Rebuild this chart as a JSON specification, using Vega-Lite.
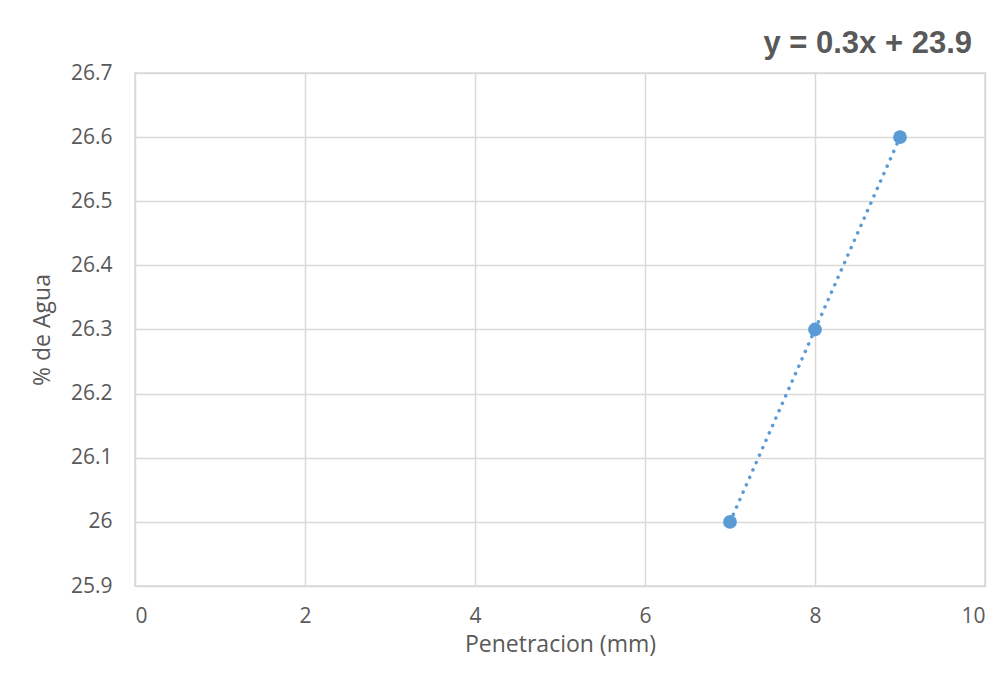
{
  "$schema": "https://vega.github.io/schema/vega-lite/v6.json",
  "width": 850,
  "height": 513,
  "autosize": {"type": "none"},
  "padding": {"left": 135, "top": 73, "right": 23, "bottom": 95},
  "background": "white",
  "title": {
    "text": "y = 0.3x + 23.9",
    "anchor": "end",
    "fontSize": 31,
    "font": "Liberation Sans",
    "fontWeight": "bold",
    "color": "#595959",
    "offset": 2,
    "dx": -13
  },
  "config": {
    "view": {"stroke": "#d9d9d9", "strokeWidth": 1.5},
    "axis": {
      "labelFont": "Open Sans",
      "titleFont": "Open Sans",
      "labelFontSize": 21,
      "titleFontSize": 23,
      "labelColor": "#595959",
      "titleColor": "#595959",
      "titleFontWeight": "normal",
      "gridColor": "#d9d9d9",
      "gridWidth": 1.5,
      "domain": false,
      "ticks": false
    }
  },
  "data": {"values": [
    {"pen": 7, "agua": 26.0},
    {"pen": 8, "agua": 26.3},
    {"pen": 9, "agua": 26.6}
  ]},
  "layer": [
    {
      "mark": {"type": "line", "color": "#5B9BD5", "strokeWidth": 3.5, "strokeDash": [0.1, 8], "strokeCap": "round"},
      "encoding": {
        "x": {"field": "pen", "type": "quantitative"},
        "y": {"field": "agua", "type": "quantitative"}
      }
    },
    {
      "mark": {"type": "point", "filled": true, "opacity": 1, "color": "#5B9BD5", "size": 190},
      "encoding": {
        "x": {
          "field": "pen", "type": "quantitative",
          "scale": {"domain": [0, 10], "nice": false},
          "axis": {"values": [0, 2, 4, 6, 8, 10], "format": "d", "title": "Penetracion (mm)", "labelPadding": 19, "titlePadding": 7}
        },
        "y": {
          "field": "agua", "type": "quantitative",
          "scale": {"domain": [25.9, 26.7], "nice": false, "zero": false},
          "axis": {"values": [25.9, 26, 26.1, 26.2, 26.3, 26.4, 26.5, 26.6, 26.7], "title": "% de Agua", "labelPadding": 23, "titlePadding": 16, "labelExpr": "format(datum.value, '~g')"}
        }
      }
    }
  ]
}
